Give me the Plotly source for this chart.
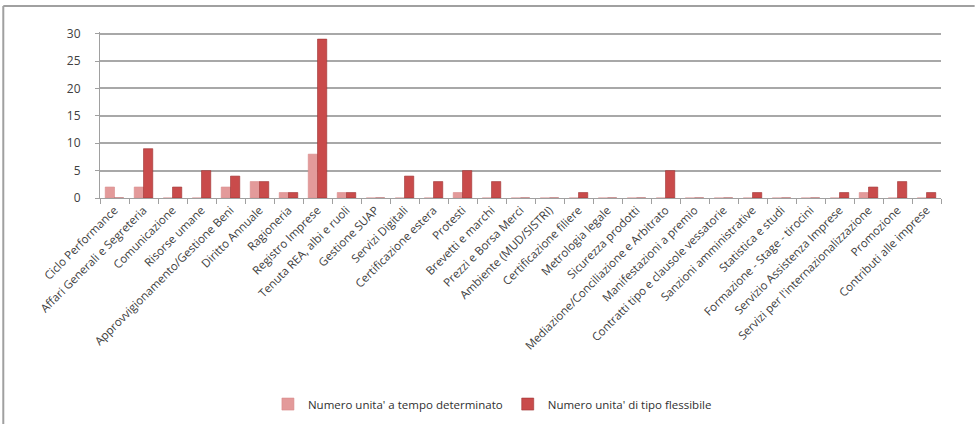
import plotly.graph_objects as go

categories = [
    "Ciclo Performance", "Affari Generali e Segreteria", "Comunicazione", "Risorse umane",
    "Approvvigionamento/Gestione Beni", "Diritto Annuale", "Ragioneria", "Registro Imprese",
    "Tenuta REA, albi e ruoli", "Gestione SUAP", "Servizi Digitali", "Certificazione estera",
    "Protesti", "Brevetti e marchi", "Prezzi e Borsa Merci", "Ambiente (MUD/SISTRI)",
    "Certificazione filiere", "Metrologia legale", "Sicurezza prodotti",
    "Mediazione/Conciliazione e Arbitrato", "Manifestazioni a premio",
    "Contratti tipo e clausole vessatorie", "Sanzioni amministrative", "Statistica e studi",
    "Formazione - Stage - tirocini", "Servizio Assistenza Imprese",
    "Servizi per l'internazionalizzazione", "Promozione", "Contributi alle imprese",
]
tempo_determinato = [2, 2, 0, 0, 2, 3, 1, 8, 1, 0, 0, 0, 1, 0, 0, 0, 0, 0, 0, 0, 0, 0, 0, 0, 0, 0, 1, 0, 0]
tipo_flessibile = [0, 9, 2, 5, 4, 3, 1, 29, 1, 0, 4, 3, 5, 3, 0, 0, 1, 0, 0, 5, 0, 0, 1, 0, 0, 1, 2, 3, 1]
series_names = ["Numero unita' a tempo determinato", "Numero unita' di tipo flessibile"]
y_ticks = [0, 5, 10, 15, 20, 25, 30]

fig = go.Figure()
fig.add_trace(go.Bar(x=categories, y=tempo_determinato, name=series_names[0],
                     marker=dict(color="#E39A9A", line=dict(color="#D88A8A", width=0.6))))
fig.add_trace(go.Bar(x=categories, y=tipo_flessibile, name=series_names[1],
                     marker=dict(color="#C94B4B", line=dict(color="#9E3434", width=0.6))))

fig.update_layout(
    width=979, height=424,
    margin=dict(l=100, r=38, t=32, b=226, autoexpand=False),
    paper_bgcolor="white", plot_bgcolor="white",
    barmode="group", bargap=0.36, bargroupgap=0,
    font=dict(family="Open Sans, Liberation Sans, sans-serif", size=12, color="#404040"),
    showlegend=True,
    legend=dict(orientation="h", xref="container", yref="container",
                x=0.503, xanchor="center", y=0.047, yanchor="middle",
                font=dict(size=11.5, color="#303030"),
                traceorder="normal", bgcolor="rgba(0,0,0,0)"),
    shapes=[
        dict(type="line", xref="paper", yref="paper", x0=-0.115, x1=1.04, y0=1.157, y1=1.157,
             line=dict(color="#A0A0A0", width=2), layer="above"),
        dict(type="line", xref="paper", yref="paper", x0=-0.115, x1=-0.115, y0=1.157, y1=-1.45,
             line=dict(color="#A0A0A0", width=2), layer="above"),
    ],
)
fig.update_xaxes(tickangle=-45, tickfont=dict(size=11.5, color="#404040"), automargin=False,
                 showline=True, linecolor="#A0A0A0", linewidth=1,
                 ticks="outside", ticklen=5, tickcolor="#A0A0A0", tickson="boundaries",
                 showgrid=False)
fig.update_yaxes(range=[0, 30.3], tickvals=y_ticks, tickfont=dict(size=12, color="#404040"),
                 automargin=False, ticklabelstandoff=12,
                 showline=True, linecolor="#A0A0A0", linewidth=1,
                 ticks="outside", ticklen=4, tickcolor="#A0A0A0",
                 showgrid=True, gridcolor="#A8A8A8", gridwidth=1.5, zeroline=False)

fig.write_html("out.html", config={"displayModeBar": False},
               post_script="document.body.style.margin='0px';")
